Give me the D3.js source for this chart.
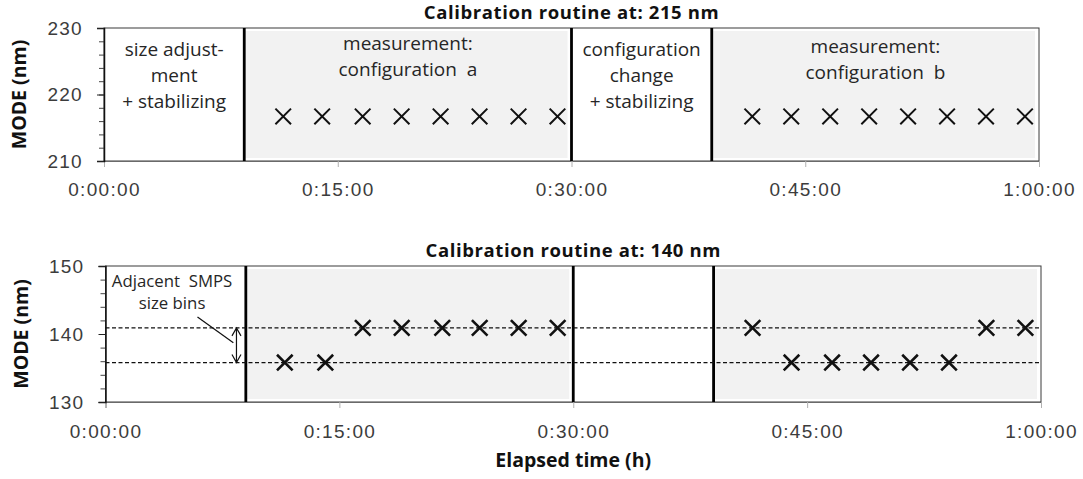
<!DOCTYPE html>
<html>
<head>
<meta charset="utf-8">
<script src="https://cdn.jsdelivr.net/npm/d3@7"></script>
<style>
  html, body { margin: 0; padding: 0; background: #fff; }
  svg { display: block; font-family: 'Open Sans', sans-serif; }
  .keep { white-space: pre; }
</style>
</head>
<body>
<svg id="chart" width="1083" height="479"></svg>
<script>
// ---- time axis (elapsed minutes) ----
const timeTicks = [0, 15, 30, 45, 60];
const phaseBoundaries = [9, 30, 39];
const measurementPhases = [[9, 30], [39, 60]];

// ---- calibration routine at 215 nm ----
const times215 = [11.5, 14.0, 16.6, 19.1, 21.6, 24.1, 26.6, 29.1,
                  41.6, 44.1, 46.6, 49.1, 51.6, 54.1, 56.6, 59.1];
const mode215 = [216.7, 216.7, 216.7, 216.7, 216.7, 216.7, 216.7, 216.7,
                 216.7, 216.7, 216.7, 216.7, 216.7, 216.7, 216.7, 216.7];
const yTicks215 = [210, 220, 230];

// ---- calibration routine at 140 nm ----
const times140 = [11.5, 14.1, 16.5, 19.0, 21.6, 24.0, 26.5, 29.0,
                  41.5, 44.0, 46.6, 49.1, 51.6, 54.1, 56.5, 59.0];
const mode140 = [135.8, 135.8, 140.9, 140.9, 140.9, 140.9, 140.9, 140.9,
                 140.9, 135.8, 135.8, 135.8, 135.8, 135.8, 140.9, 140.9];
const sizeBins140 = [135.8, 140.9];
const yTicks140 = [130, 140, 150];

// phase descriptions, each centred on its time segment
const phaseLabels215 = [
  { from: 0,  to: 9,  lines: ["size adjust-", "ment", "+ stabilizing"], dy: [28, 54, 80] },
  { from: 9,  to: 30, lines: ["measurement:", "configuration  a"], dy: [22, 48] },
  { from: 30, to: 39, lines: ["configuration", "change", "+ stabilizing"], dy: [28, 54, 80] },
  { from: 39, to: 60, lines: ["measurement:", "configuration  b"], dy: [25, 51] }
];
const binNote = ["Adjacent  SMPS", "size bins"];

const svg = d3.select("#chart");

function fmtTime(m) {
  const h = Math.floor(m / 60), mm = m % 60;
  return h + ":" + String(mm).padStart(2, "0") + ":00";
}

function drawPanel(cfg) {
  const x = d3.scaleLinear().domain([0, 60]).range([cfg.left, cfg.right]);
  const y = d3.scaleLinear().domain(cfg.yDomain).range([cfg.bottom, cfg.top]);
  const g = svg.append("g");

  // shaded measurement phases
  const pad = 3;
  g.selectAll("rect.phase").data(measurementPhases).join("rect")
    .attr("class", "phase")
    .attr("x", d => x(d[0]))
    .attr("y", cfg.top + pad)
    .attr("width", d => x(d[1]) - x(d[0]) - pad - 1)
    .attr("height", cfg.bottom - cfg.top - 2 * pad)
    .attr("fill", "#f2f2f2");

  // plot frame
  g.append("rect")
    .attr("x", cfg.left).attr("y", cfg.top)
    .attr("width", cfg.right - cfg.left).attr("height", cfg.bottom - cfg.top)
    .attr("fill", "none").attr("stroke", "#3a3a3a").attr("stroke-width", 1);

  // x axis
  const xAxis = g.append("g")
    .attr("transform", `translate(0,${cfg.bottom})`)
    .call(d3.axisBottom(x).tickValues(timeTicks).tickFormat(fmtTime).tickSize(6).tickPadding(cfg.xLabelPad));
  xAxis.select(".domain").attr("stroke", "#6a6a6a");
  xAxis.selectAll(".tick line").attr("stroke", "#b0b0b0");
  xAxis.selectAll(".tick text")
    .attr("fill", "#3c3c3c").style("font-size", "19px").style("letter-spacing", "1.3px");

  // y axis: minor ticks every 2 nm, labelled majors every 10 nm
  const minor = d3.range(cfg.yDomain[0], cfg.yDomain[1] + 0.01, 2);
  const yMinor = g.append("g")
    .attr("transform", `translate(${cfg.left},0)`)
    .call(d3.axisLeft(y).tickValues(minor).tickFormat("").tickSize(5));
  yMinor.select(".domain").remove();
  yMinor.selectAll(".tick line").attr("stroke", "#444");
  const yAxis = g.append("g")
    .attr("transform", `translate(${cfg.left},0)`)
    .call(d3.axisLeft(y).tickValues(cfg.yTicks).tickSize(7).tickPadding(14));
  yAxis.select(".domain").attr("stroke", "#111").attr("stroke-width", 1.5);
  yAxis.selectAll(".tick line").attr("stroke", "#222");
  yAxis.selectAll(".tick text")
    .attr("fill", "#3c3c3c").style("font-size", "19px").style("letter-spacing", "1.3px");

  // y axis title
  g.append("text")
    .attr("transform", `translate(${cfg.left - 78},${(cfg.top + cfg.bottom) / 2}) rotate(-90)`)
    .attr("text-anchor", "middle")
    .style("font-size", "19.5px").style("font-weight", "700").attr("fill", "#111")
    .text("MODE (nm)");

  // panel title
  g.append("text")
    .attr("x", (cfg.left + cfg.right) / 2).attr("y", cfg.titleY)
    .attr("text-anchor", "middle")
    .style("font-size", "18.5px").style("font-weight", "700")
    .style("letter-spacing", "0.6px").attr("fill", "#111")
    .text(cfg.title);

  // phase boundaries
  g.selectAll("line.bound").data(phaseBoundaries).join("line")
    .attr("class", "bound")
    .attr("x1", d => x(d)).attr("x2", d => x(d))
    .attr("y1", cfg.top).attr("y2", cfg.bottom)
    .attr("stroke", "#000").attr("stroke-width", 2.8);

  return { g, x, y };
}

function drawMarkers(p, times, values, width) {
  const h = 7.8;
  p.g.selectAll("path.pt").data(times.map((t, i) => [t, values[i]])).join("path")
    .attr("class", "pt")
    .attr("transform", d => `translate(${p.x(d[0])},${p.y(d[1])})`)
    .attr("d", `M${-h},${-h}L${h},${h}M${-h},${h}L${h},${-h}`)
    .attr("stroke", "#111").attr("stroke-width", width).attr("fill", "none");
}

// ---- upper panel: 215 nm ----
const panel215 = drawPanel({
  left: 104, right: 1039, top: 28, bottom: 161,
  yDomain: [210, 230], yTicks: yTicks215, xLabelPad: 16,
  title: "Calibration routine at: 215 nm", titleY: 19
});
phaseLabels215.forEach(lab => {
  const t = panel215.g.append("text")
    .attr("class", "keep")
    .attr("text-anchor", "middle")
    .style("font-size", "19px").attr("fill", "#262626");
  lab.lines.forEach((s, i) => {
    t.append("tspan")
      .attr("x", panel215.x((lab.from + lab.to) / 2))
      .attr("y", 28 + lab.dy[i])
      .text(s);
  });
});
drawMarkers(panel215, times215, mode215, 2);

// ---- lower panel: 140 nm ----
const panel140 = drawPanel({
  left: 105.5, right: 1041, top: 266, bottom: 402,
  yDomain: [130, 150], yTicks: yTicks140, xLabelPad: 17,
  title: "Calibration routine at: 140 nm", titleY: 257
});

// adjacent SMPS size bins
panel140.g.selectAll("line.bin").data(sizeBins140).join("line")
  .attr("class", "bin")
  .attr("x1", panel140.x(0)).attr("x2", panel140.x(60))
  .attr("y1", d => panel140.y(d)).attr("y2", d => panel140.y(d))
  .attr("stroke", "#111").attr("stroke-width", 1.3).attr("stroke-dasharray", "4,2.5");

// double-headed arrow spanning the bin gap, with leader line to the note
const ax = panel140.x(8.4);
const yHi = panel140.y(sizeBins140[1]), yLo = panel140.y(sizeBins140[0]);
const ah = 4.5, al = 8;
panel140.g.append("path")
  .attr("d", `M${ax},${yHi}L${ax},${yLo}` +
             `M${ax - ah},${yHi + al}L${ax},${yHi}L${ax + ah},${yHi + al}` +
             `M${ax - ah},${yLo - al}L${ax},${yLo}L${ax + ah},${yLo - al}`)
  .attr("stroke", "#111").attr("stroke-width", 1.2).attr("fill", "none");
panel140.g.append("line")
  .attr("x1", panel140.x(5.9)).attr("y1", panel140.y(142.5))
  .attr("x2", panel140.x(8.2)).attr("y2", panel140.y(138.7))
  .attr("stroke", "#111").attr("stroke-width", 1.2);
const note = panel140.g.append("text")
  .attr("class", "keep")
  .attr("text-anchor", "middle")
  .style("font-size", "16.8px").attr("fill", "#262626");
binNote.forEach((s, i) => {
  note.append("tspan").attr("x", panel140.x(4.27)).attr("y", 287 + i * 22).text(s);
});

drawMarkers(panel140, times140, mode140, 2.6);

// shared x axis title
svg.append("text")
  .attr("x", panel140.x(30)).attr("y", 467)
  .attr("text-anchor", "middle")
  .style("font-size", "19.5px").style("font-weight", "700").attr("fill", "#111")
  .text("Elapsed time (h)");
</script>
</body>
</html>
